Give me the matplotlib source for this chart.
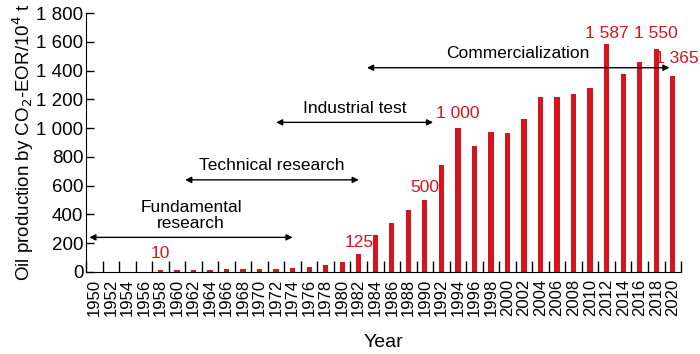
import numpy as np
import matplotlib.pyplot as plt
from matplotlib.ticker import FuncFormatter, FixedLocator

plt.rcParams['font.family'] = ['Liberation Sans', 'DejaVu Sans']

years = list(range(1950, 2021, 2))
production = [0, 0, 0, 0, 10, 10, 14, 15, 18, 18, 20, 20, 28, 35, 48, 69,
              125, 255, 338, 431, 500, 746, 1000, 878, 975, 964, 1061, 1216,
              1214, 1237, 1281, 1587, 1374, 1459, 1550, 1365]

labelled_years = [1958, 1982, 1990, 1994, 2012, 2018, 2020]
labelled_texts = ["10", "125", "500", "1 000", "1 587", "1 550", "1 365"]

stage_names = ["Fundamental\nresearch", "Technical research", "Industrial test", "Commercialization"]
stage_start = [1950, 1961, 1972, 1983]
stage_end = [1974, 1982, 1991, 2019]
stage_level = [240, 640, 1040, 1420]

red = "#d7141c"

fig = plt.figure(figsize=(7, 3.54), dpi=100)
ax = fig.add_axes([0.1229, 0.232, 0.850, 0.731])

x = np.arange(len(years))
ax.bar(x, production, width=0.32, color=red)

ax.set_xlim(-0.5, len(years) - 0.5)
ax.set_ylim(0, 1800)
ax.spines["top"].set_visible(False)
ax.spines["right"].set_visible(False)

ax.set_xticks(x)
ax.set_xticklabels([str(y) for y in years], rotation=90, fontsize=12)
ax.xaxis.set_minor_locator(FixedLocator(np.arange(-0.5, len(years), 1.0)))
ax.tick_params(axis="x", which="major", length=0, pad=5)
ax.tick_params(axis="x", which="minor", direction="in", length=8, width=1)

ax.set_yticks(range(0, 1801, 200))
ax.yaxis.set_major_formatter(FuncFormatter(lambda v, p: f"{int(v):,}".replace(",", " ")))
ax.tick_params(axis="y", direction="in", length=6, width=1, labelsize=13.5, pad=2)

ax.set_xlabel("Year", fontsize=14, labelpad=13)
ax.set_ylabel("Oil production by CO$_2$-EOR/10$^4$ t", fontsize=13.5, labelpad=0)

def pos(year):
    return years.index(year)

# red value labels (offset above bar, baseline alignment)
label_offsets = [87, 49, 56, 70, 41, 78, 85]
for yr, txt, off in zip(labelled_years, labelled_texts, label_offsets):
    v = production[pos(yr)]
    if yr == 2020:
        # last label sits to the right, against the figure edge
        ax.text(pos(yr) + 1.55, v + off, txt, color=red, fontsize=12.5,
                ha="right", va="baseline", clip_on=False)
    else:
        ax.text(pos(yr), v + off, txt, color=red, fontsize=12.5,
                ha="center", va="baseline")

# stage arrows
for name, s, e, lv in zip(stage_names, stage_start, stage_end, stage_level):
    x0 = (s - 1950) / 2
    x1 = (e - 1950) / 2
    if s == 1950:
        x0 = -0.3
    if e == 2019:
        x1 = 34.8
    ax.annotate("", xy=(x1, lv), xytext=(x0, lv),
                arrowprops=dict(arrowstyle="<|-|>", color="black", lw=1, mutation_scale=9,
                                shrinkA=0, shrinkB=0))
    ax.text((x0 + x1) / 2, lv + 45, name, fontsize=12.5, ha="center", va="bottom", linespacing=1.05)

fig.savefig("out.png", dpi=100)
